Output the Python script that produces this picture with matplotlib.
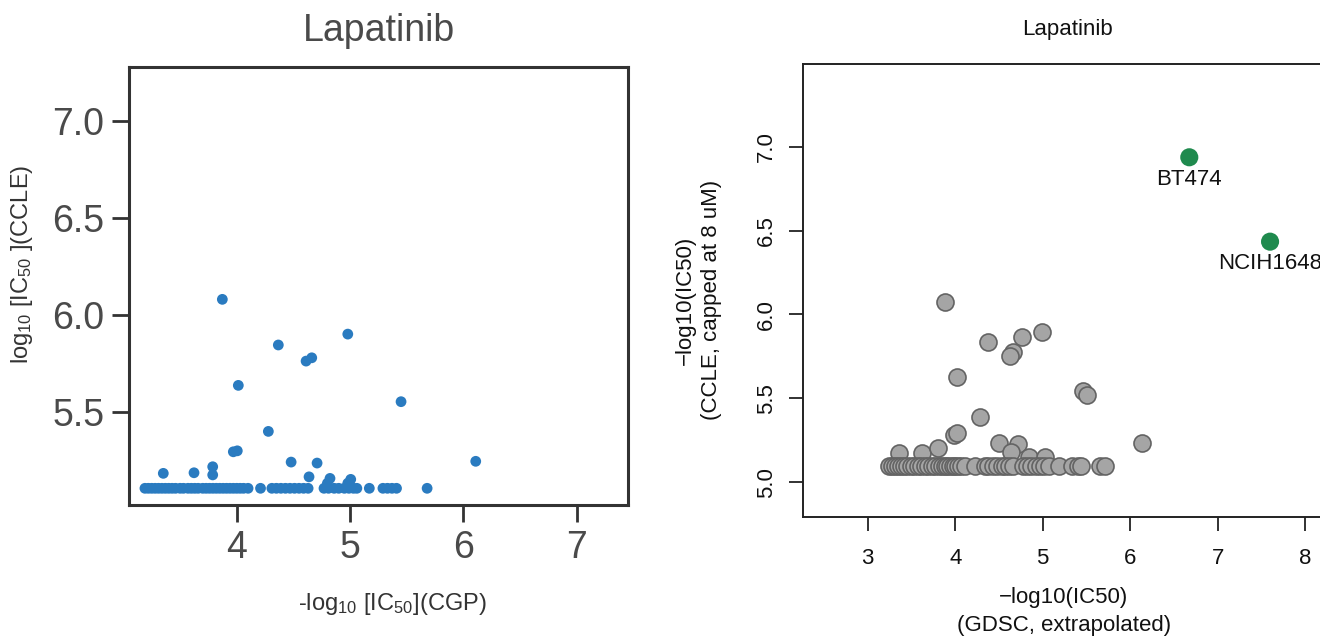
import matplotlib
matplotlib.use('Agg')
import matplotlib.pyplot as plt

# ---------------- data: left panel (CGP vs CCLE) ----------------
cgp_x = [3.873, 4.367, 4.612, 4.662, 4.980, 4.014, 5.450, 4.279, 3.970, 4.005,
         4.480, 4.709, 6.109, 3.352, 3.623, 3.788, 3.788, 4.638, 4.823, 5.006,
         4.800, 4.980,
         3.19, 3.22, 3.25, 3.28, 3.31, 3.34, 3.37, 3.40, 3.43, 3.46, 3.50, 3.53,
         3.57, 3.60, 3.63, 3.66, 3.70, 3.73, 3.76, 3.79, 3.82, 3.85, 3.88, 3.91,
         3.94, 3.97, 4.00, 4.03, 4.06, 4.10, 4.21, 4.31, 4.35, 4.39, 4.43, 4.47,
         4.51, 4.55, 4.59, 4.63, 4.77, 4.81, 4.86, 4.90, 4.95, 4.99, 5.03, 5.06,
         5.17, 5.29, 5.33, 5.37, 5.41, 5.68]
cgp_y = [6.082, 5.847, 5.764, 5.781, 5.903, 5.639, 5.555, 5.402, 5.297, 5.302,
         5.244, 5.239, 5.248, 5.186, 5.189, 5.220, 5.178, 5.168, 5.160, 5.155,
         5.135, 5.135,
         5.109, 5.109, 5.109, 5.109, 5.109, 5.109, 5.109, 5.109, 5.109, 5.109, 5.109, 5.109,
         5.109, 5.109, 5.109, 5.109, 5.109, 5.109, 5.109, 5.109, 5.109, 5.109, 5.109, 5.109,
         5.109, 5.109, 5.109, 5.109, 5.109, 5.109, 5.109, 5.109, 5.109, 5.109, 5.109, 5.109,
         5.109, 5.109, 5.109, 5.109, 5.109, 5.109, 5.109, 5.109, 5.109, 5.109, 5.109, 5.109,
         5.109, 5.109, 5.109, 5.109, 5.109, 5.109]

# ---------------- data: right panel (GDSC vs CCLE) ----------------
gdsc_x = [3.883, 4.371, 4.760, 4.989, 4.664, 4.626, 4.024, 5.464, 5.510, 4.283,
          3.990, 4.017, 6.131, 4.500, 4.721, 3.361, 3.624, 3.800, 4.843, 5.026,
          4.640,
          3.24, 3.28, 3.31, 3.35, 3.38, 3.42, 3.45, 3.49, 3.53, 3.57, 3.61, 3.65,
          3.69, 3.73, 3.77, 3.81, 3.85, 3.88, 3.91, 3.94, 3.97, 4.00, 4.03, 4.07,
          4.11, 4.23, 4.34, 4.38, 4.43, 4.48, 4.53, 4.57, 4.61, 4.66, 4.78, 4.82,
          4.87, 4.92, 4.97, 5.02, 5.07, 5.19, 5.34, 5.40, 5.44, 5.66, 5.71]
gdsc_y = [6.073, 5.838, 5.868, 5.894, 5.778, 5.753, 5.626, 5.546, 5.522, 5.391,
          5.282, 5.292, 5.232, 5.232, 5.226, 5.176, 5.176, 5.206, 5.149, 5.153,
          5.180,
          5.097, 5.097, 5.097, 5.097, 5.097, 5.097, 5.097, 5.097, 5.097, 5.097, 5.097, 5.097,
          5.097, 5.097, 5.097, 5.097, 5.097, 5.097, 5.097, 5.097, 5.097, 5.097, 5.097, 5.097,
          5.097, 5.097, 5.097, 5.097, 5.097, 5.097, 5.097, 5.097, 5.097, 5.097, 5.097, 5.097,
          5.097, 5.097, 5.097, 5.097, 5.097, 5.097, 5.097, 5.097, 5.097, 5.097, 5.097]

hl_names = ['BT474', 'NCIH1648']
hl_x = [6.675, 7.598]
hl_y = [6.937, 6.434]

left_xticks = [4, 5, 6, 7]
left_yticks = [5.5, 6.0, 6.5, 7.0]
right_xticks = [3, 4, 5, 6, 7, 8]
right_yticks = [5.0, 5.5, 6.0, 6.5, 7.0]

plt.rcParams['font.family'] = ['Liberation Sans', 'DejaVu Sans']
plt.rcParams['mathtext.default'] = 'regular'

W, H = 1320, 641
fig = plt.figure(figsize=(W / 100, H / 100), dpi=100)


def fx(px):
    return px / W


def fy(py):
    return 1 - py / H


# ---------------- left panel ----------------
axL = fig.add_axes([fx(129.3), fy(505), (627.7 - 129.3) / W, (505 - 66.7) / H])
axL.scatter(cgp_x, cgp_y, s=60, color='#2A7BC0', edgecolors='none', zorder=3)
axL.set_xlim(3.052, 7.45)
axL.set_ylim(5.023, 7.28)
axL.set_xticks(left_xticks)
axL.set_xticklabels([str(v) for v in left_xticks])
axL.set_yticks(left_yticks)
axL.set_yticklabels(['%.1f' % v for v in left_yticks])
axL.tick_params(direction='out', length=12, width=2, color='#333333',
                labelsize=27, labelcolor='#4a4a4a', pad=6)
for sp in axL.spines.values():
    sp.set_linewidth(2.2)
    sp.set_color('#333333')
fig.text(fx(378.5), fy(31), 'Lapatinib', ha='center', va='center',
         fontsize=27, color='#4a4a4a')
fig.text(fx(392), fy(604), r'-log$_{10}$ [IC$_{50}$](CGP)', ha='center', va='center',
         fontsize=17, color='#333333')
fig.text(fx(22), fy(264), r'log$_{10}$ [IC$_{50}$ ](CCLE)', ha='center', va='center',
         rotation=90, fontsize=17, color='#333333')

# ---------------- right panel ----------------
axR = fig.add_axes([fx(803.3), fy(517.3), (1330 - 803.3) / W, (517.3 - 64) / H])
axR.scatter(gdsc_x, gdsc_y, s=150, facecolor='#A5A5A5', edgecolor='#636363',
            linewidth=1.2, zorder=3)
axR.scatter(hl_x, hl_y, s=170, color='#1F8A4E', edgecolors='none', zorder=4)
for name, x, y in zip(hl_names, hl_x, hl_y):
    axR.annotate(name, (x, y), xytext=(0, -16), textcoords='offset points',
                 ha='center', va='center', fontsize=16, color='#111111')
axR.set_xlim(2.264, 8.283)
axR.set_ylim(4.791, 7.493)
axR.set_xticks(right_xticks)
axR.set_xticklabels([str(v) for v in right_xticks])
axR.set_yticks(right_yticks)
axR.set_yticklabels(['%.1f' % v for v in right_yticks])
axR.tick_params(direction='out', length=10, width=1.3, color='#222222',
                labelsize=16, labelcolor='#111111')
axR.tick_params(axis='x', pad=12)
axR.tick_params(axis='y', pad=9, labelrotation=90)
for lab in axR.get_yticklabels():
    lab.set_va('center')
for sp in axR.spines.values():
    sp.set_linewidth(1.4)
    sp.set_color('#222222')
fig.text(fx(1068), fy(29), 'Lapatinib', ha='center', va='center',
         fontsize=16, color='#111111')
fig.text(fx(1064), fy(598), '\u2212log10(IC50)', ha='center', va='center',
         fontsize=16, color='#111111')
fig.text(fx(1064), fy(625), '(GDSC, extrapolated)', ha='center', va='center',
         fontsize=16, color='#111111')
fig.text(fx(685), fy(300), '\u2212log10(IC50)', ha='center', va='center',
         rotation=90, fontsize=16, color='#111111')
fig.text(fx(711), fy(300), '(CCLE, capped at 8 uM)', ha='center', va='center',
         rotation=90, fontsize=16, color='#111111')

fig.savefig('out.png', dpi=100)
